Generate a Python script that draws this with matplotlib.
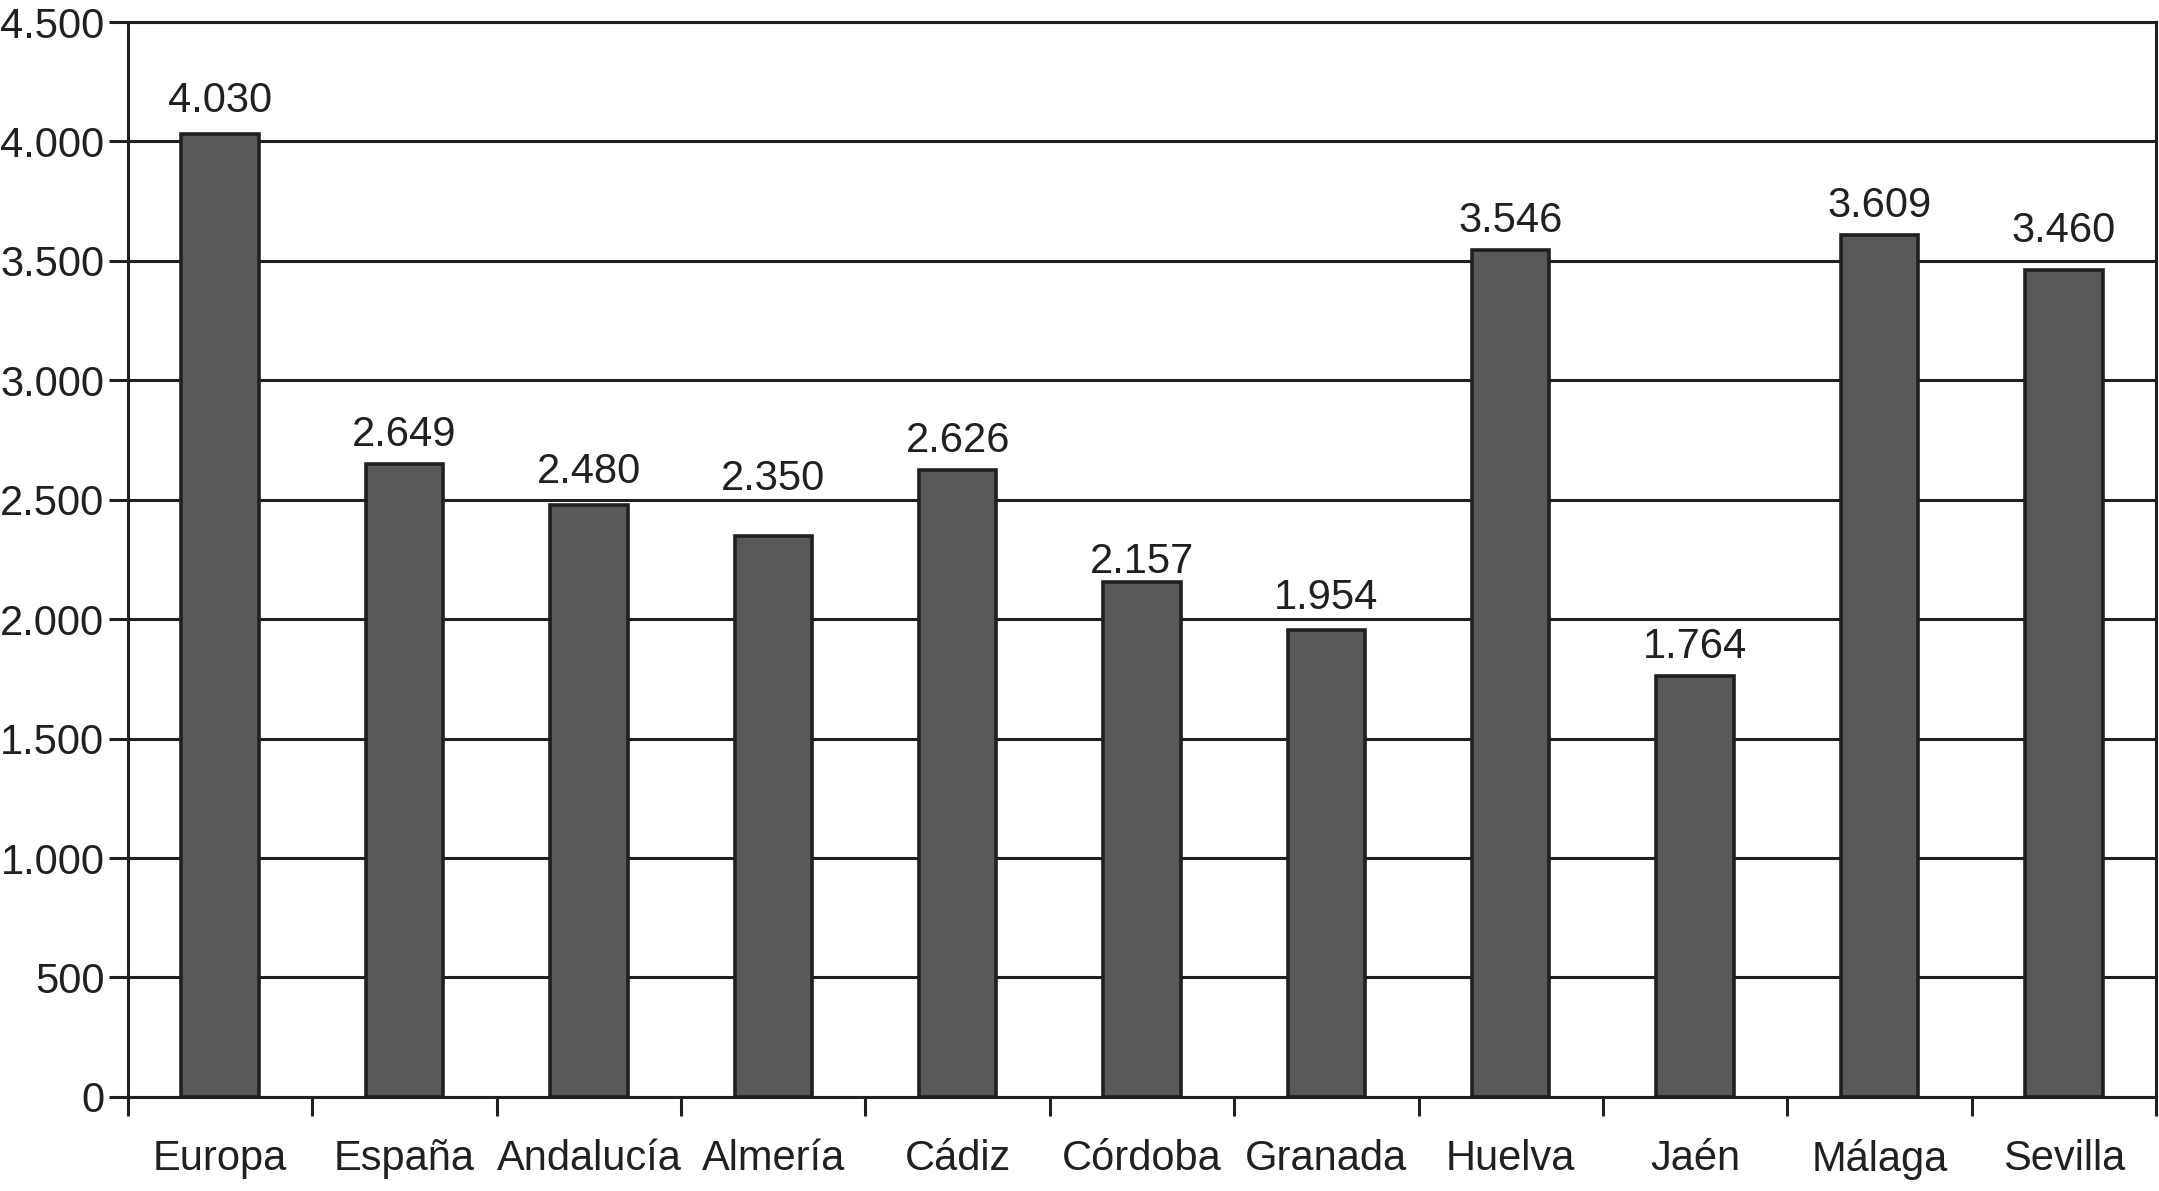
"""
Bar chart: values by region (Europa, España, Andalucía and provinces)
"""
import matplotlib
matplotlib.use('Agg')
import matplotlib.pyplot as plt
from matplotlib.ticker import FuncFormatter, FixedLocator
import numpy as np

categories = ['Europa', 'España', 'Andalucía', 'Almería', 'Cádiz', 'Córdoba',
              'Granada', 'Huelva', 'Jaén', 'Málaga', 'Sevilla']
values = [4030, 2649, 2480, 2350, 2626, 2157, 1954, 3546, 1764, 3609, 3460]
y_ticks = [0, 500, 1000, 1500, 2000, 2500, 3000, 3500, 4000, 4500]

BAR_COLOR = '#58595b'
LINE_COLOR = '#231f20'
FONT_SIZE = 30

# a few labels sit a bit higher/lower in the original to clear the grid lines
label_nudge = {'Europa': 20, 'Almería': 115, 'Sevilla': 45, 'Córdoba': -40,
               'Andalucía': 15, 'Granada': 15}


def dot_thousands(v, pos=None):
    """Format number with '.' as thousands separator."""
    return f'{int(round(v)):,}'.replace(',', '.')


def main():
    plt.rcParams['font.family'] = ['Liberation Sans', 'DejaVu Sans']

    fig = plt.figure(figsize=(21.59, 11.91), dpi=100)
    ax = fig.add_axes([0.0593, 0.079, 0.9393, 0.9025])

    x = np.arange(len(categories))
    ax.bar(x, values, width=0.42, color=BAR_COLOR, edgecolor=LINE_COLOR,
           linewidth=2.6, zorder=3)

    for xi, name, v in zip(x, categories, values):
        ax.text(xi, v + 75 + label_nudge.get(name, 0), dot_thousands(v),
                ha='center', va='baseline', fontsize=FONT_SIZE,
                color=LINE_COLOR)

    ax.set_xlim(-0.5, len(categories) - 0.5)
    ax.set_ylim(0, 4500)

    ax.yaxis.set_major_locator(FixedLocator(y_ticks))
    ax.yaxis.set_major_formatter(FuncFormatter(dot_thousands))
    ax.grid(axis='y', color=LINE_COLOR, linewidth=2.2, zorder=0)

    # ticks between categories, labels at the centres
    ax.set_xticks(np.arange(len(categories) + 1) - 0.5)
    ax.set_xticklabels([])
    ax.set_xticks(x, minor=True)
    ax.set_xticklabels(categories, minor=True)
    ax.tick_params(axis='x', which='minor', length=0, pad=30,
                   labelsize=FONT_SIZE, labelcolor=LINE_COLOR)
    ax.tick_params(axis='x', which='major', length=14, width=2.2,
                   color=LINE_COLOR, direction='out')
    ax.tick_params(axis='y', length=14, width=2.2, color=LINE_COLOR,
                   labelsize=FONT_SIZE, labelcolor=LINE_COLOR, pad=3)

    for side in ['left', 'right', 'bottom', 'top']:
        ax.spines[side].set_linewidth(2.2)
        ax.spines[side].set_color(LINE_COLOR)

    fig.savefig('out.png', dpi=100, facecolor='white')


if __name__ == '__main__':
    main()
